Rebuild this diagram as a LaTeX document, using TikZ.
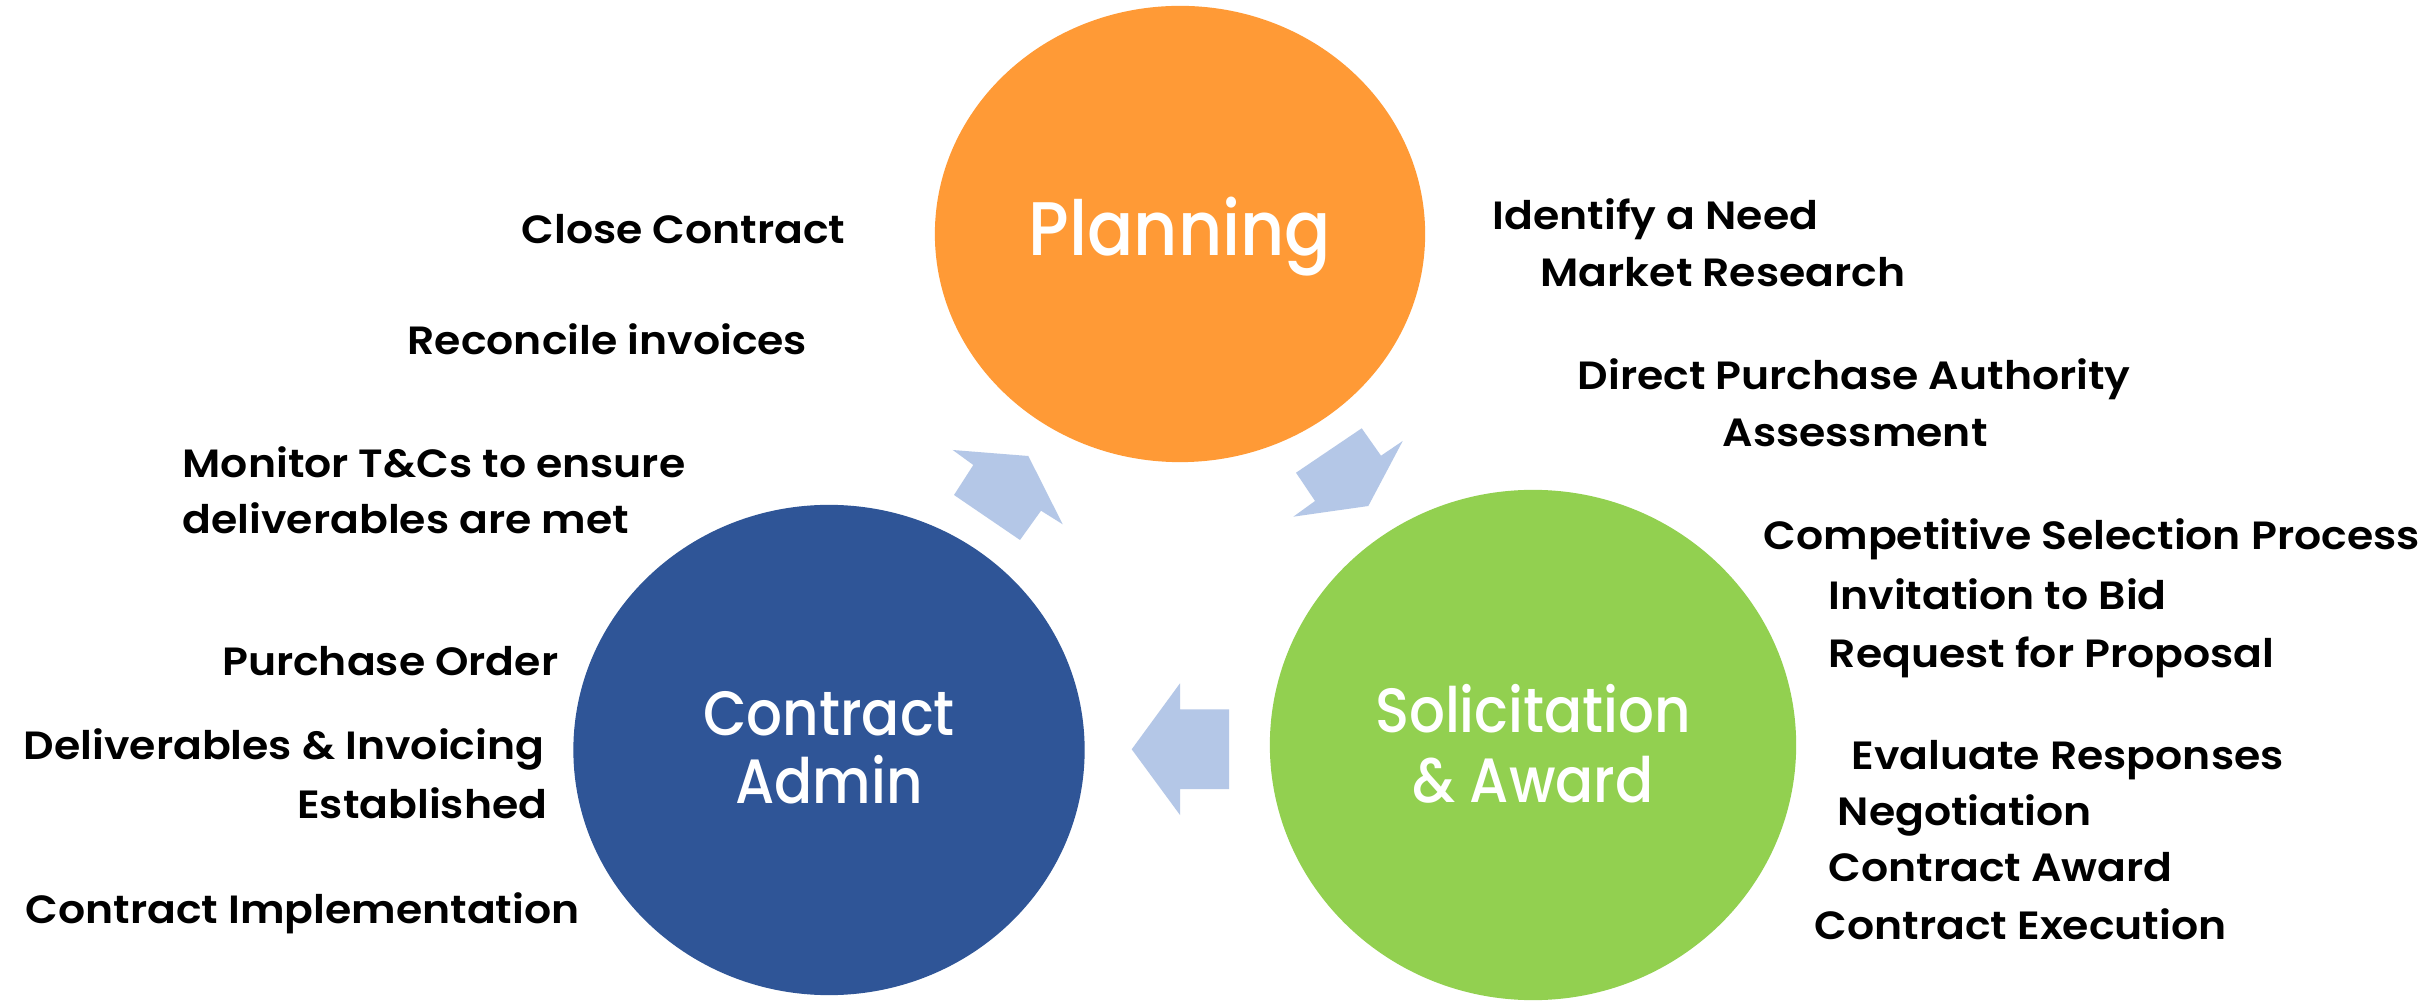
\documentclass[tikz,border=0pt]{standalone}
\usepackage{fontspec}
\setmainfont{Poppins}
\newfontfamily\sidefont{Poppins SemiBold}[FakeStretch=1.08]
\newfontfamily\circfont{Poppins Medium}[FakeStretch=0.9]
\usetikzlibrary{shapes.geometric}
\definecolor{planc}{HTML}{FF9A36}
\definecolor{adminc}{HTML}{2F5597}
\definecolor{solc}{HTML}{92D050}
\definecolor{arrowc}{HTML}{B4C7E7}
\tikzset{
  blob/.style={ellipse, inner sep=0pt, draw=none},
  bigtxt/.style={font=\circfont\fontsize{21.6}{24}\selectfont, text=white, inner sep=0pt, anchor=base},
  midtxt/.style={font=\circfont\fontsize{17.8}{20}\selectfont, text=white, inner sep=0pt, anchor=base},
  side/.style={font=\sidefont\fontsize{11.2}{15}\selectfont, text=black, inner sep=0pt, anchor=base west},
  sider/.style={side, anchor=base east},
  blockarrow/.style={fill=arrowc, draw=none}
}
\begin{document}
\begin{tikzpicture}[x=0.01cm,y=-0.01cm]
\useasboundingbox[fill=white] (0,0) rectangle (2425,1001);
% circles
\node[blob, fill=planc, minimum width=4.90cm, minimum height=4.56cm] (plan) at (1180,234) {};
\node[blob, fill=adminc, minimum width=5.11cm, minimum height=4.90cm] (admin) at (829,750) {};
\node[blob, fill=solc, minimum width=5.26cm, minimum height=5.10cm] (sol) at (1533,745) {};
% block arrows
\fill[blockarrow] (952.7,450) -- (973.3,465) -- (954,495) -- (1020,540) -- (1041,510.7) -- (1062.7,524.3) -- (1028.3,456) -- cycle;
\fill[blockarrow] (1361.7,428.3) -- (1381,455.7) -- (1402.7,441) -- (1368.3,506) -- (1293.3,516.7) -- (1315,501) -- (1296,472.7) -- cycle;
\fill[blockarrow] (1131.7,749.3) -- (1180,683.3) -- (1180,709.3) -- (1229,709.3) -- (1229,789) -- (1180,789) -- (1180,815) -- cycle;
% circle texts
\node[bigtxt] (tplan) at (1180,256) {Planning};
\node[midtxt] (tadm1) at (829,736) {Contract};
\node[midtxt] (tadm2) at (829,804) {Admin};
\node[midtxt] (tsol1) at (1533,733) {Solicitation};
\node[midtxt] (tsol2) at (1533,802) {\& Award};
% left texts
\node[side] (l1) at (521,244) {Close Contract};
\node[side] (l2) at (407,355) {Reconcile invoices};
\node[side] (l3) at (182,478) {Monitor T\&Cs to ensure};
\node[side] (l4) at (182,534) {deliverables are met};
\node[sider] (l5) at (559,676) {Purchase Order};
\node[sider] (l6) at (545,760) {Deliverables \& Invoicing};
\node[sider] (l7) at (548,818) {Established};
\node[side] (l8) at (25,923) {Contract Implementation};
% right texts
\node[side] (r1) at (1492,230) {Identify a Need};
\node[side] (r2) at (1540,287) {Market Research};
\node[side] (r3) at (1577,390) {Direct Purchase Authority};
\node[side] (r4) at (1722,447) {Assessment};
\node[side] (r5) at (1763,550) {Competitive Selection Process};
\node[side] (r6) at (1828,610) {Invitation to Bid};
\node[side] (r7) at (1828,668) {Request for Proposal};
\node[side] (r8) at (1851,769) {Evaluate Responses};
\node[side] (r9) at (1837,825) {Negotiation};
\node[side] (r10) at (1828,881) {Contract Award};
\node[side] (r11) at (1814,939) {Contract Execution};
\end{tikzpicture}
\end{document}
